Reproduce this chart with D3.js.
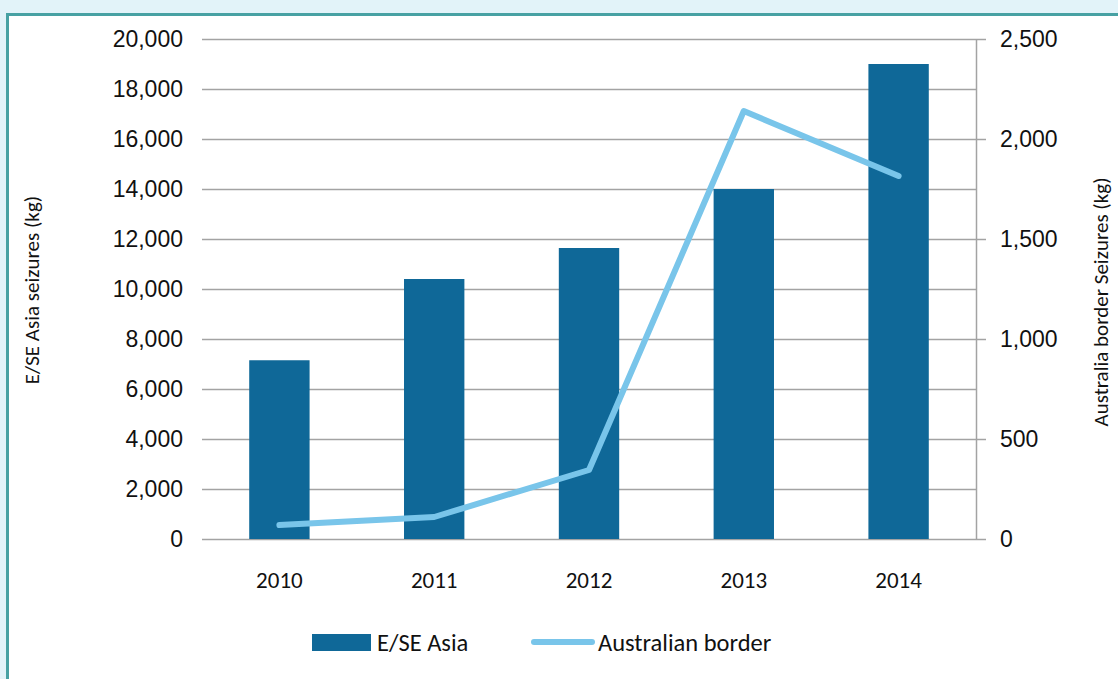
<!DOCTYPE html>
<html lang="en">
<head>
    <meta charset="UTF-8">
    <title>E/SE Asia and Australian border seizures</title>
    <script src="https://d3js.org/d3.v7.min.js"></script>
    <style>
        html, body { margin: 0; padding: 0; background: #e2f3f9; }
        body { font-family: Calibri, Carlito, "Liberation Sans", Arial, sans-serif; }
        svg { display: block; }
        .tick-label { font-size: 23px; fill: #111; }
        .axis-title { font-size: 21px; fill: #111; }
        .legend text { font-size: 24.5px; fill: #111; }
    </style>
</head>
<body>
    <div id="chart"></div>
    <script>
        // chart values
        const years = ["2010", "2011", "2012", "2013", "2014"];
        const asiaSeizures = [7150, 10400, 11640, 14000, 19000];
        const borderSeizures = [70, 110, 345, 2140, 1815];
        const leftTicks = [0, 2000, 4000, 6000, 8000, 10000, 12000, 14000, 16000, 18000, 20000];
        const rightTicks = [0, 500, 1000, 1500, 2000, 2500];

        const W = 1118, H = 679;
        const plot = { left: 202, right: 976, top: 39, bottom: 539 };

        const svg = d3.select("#chart").append("svg")
            .attr("width", W)
            .attr("height", H);

        // white panel with teal frame
        svg.append("rect")
            .attr("x", 7.5).attr("y", 14.5)
            .attr("width", W + 20).attr("height", H + 20)
            .attr("fill", "#fff")
            .attr("stroke", "#47a1a3")
            .attr("stroke-width", 3);

        const x = d3.scaleBand()
            .domain(years)
            .range([plot.left, plot.right])
            .paddingInner(0.61)
            .paddingOuter(0.305);
        const xc = d => x(d) + x.bandwidth() / 2;

        const yL = d3.scaleLinear().domain([0, 20000]).range([plot.bottom, plot.top]);
        const yR = d3.scaleLinear().domain([0, 2500]).range([plot.bottom, plot.top]);

        // gridlines (left axis)
        const leftAxis = d3.axisLeft(yL)
            .tickValues(leftTicks)
            .tickSize(-(plot.right - plot.left))
            .tickPadding(19)
            .tickFormat(d3.format(","));
        const gL = svg.append("g")
            .attr("transform", "translate(" + plot.left + ",0)")
            .call(leftAxis);
        gL.select(".domain").remove();
        gL.selectAll(".tick line").attr("stroke", "#a3a3a3").attr("stroke-width", 1.5);
        gL.selectAll(".tick text").attr("class", "tick-label").attr("font-family", null).attr("font-size", null).attr("fill", null);

        // right axis
        const rightAxis = d3.axisRight(yR)
            .tickValues(rightTicks)
            .tickSize(10)
            .tickSizeOuter(0)
            .tickPadding(14)
            .tickFormat(d3.format(","));
        const gR = svg.append("g")
            .attr("transform", "translate(" + plot.right + ",0)")
            .call(rightAxis);
        gR.select(".domain").attr("stroke", "#a3a3a3").attr("stroke-width", 1.5);
        gR.selectAll(".tick line").attr("stroke", "#a3a3a3").attr("stroke-width", 1.5);
        gR.selectAll(".tick text").attr("class", "tick-label").attr("font-family", null).attr("font-size", null).attr("fill", null);

        // bars
        svg.append("g").selectAll("rect")
            .data(years)
            .join("rect")
            .attr("x", d => x(d))
            .attr("width", x.bandwidth())
            .attr("y", (d, i) => yL(asiaSeizures[i]))
            .attr("height", (d, i) => yL(0) - yL(asiaSeizures[i]))
            .attr("fill", "#0f6898");

        // category labels
        svg.append("g").selectAll("text")
            .data(years)
            .join("text")
            .attr("class", "tick-label")
            .attr("x", d => xc(d))
            .attr("y", 588)
            .attr("text-anchor", "middle")
            .text(d => d);

        // line on right axis
        const line = d3.line()
            .x((d, i) => xc(years[i]))
            .y(d => yR(d));
        svg.append("path")
            .datum(borderSeizures)
            .attr("d", line)
            .attr("fill", "none")
            .attr("stroke", "#79c5ea")
            .attr("stroke-width", 6)
            .attr("stroke-linejoin", "round")
            .attr("stroke-linecap", "round");

        // axis titles
        svg.append("text")
            .attr("class", "axis-title")
            .attr("transform", "translate(39,290) rotate(-90)")
            .attr("text-anchor", "middle")
            .text("E/SE Asia seizures (kg)");
        svg.append("text")
            .attr("class", "axis-title")
            .attr("transform", "translate(1108,302) rotate(-90)")
            .attr("text-anchor", "middle")
            .text("Australia border Seizures (kg)");

        // legend
        const legend = svg.append("g").attr("class", "legend");
        legend.append("rect")
            .attr("x", 312).attr("y", 634)
            .attr("width", 59).attr("height", 17)
            .attr("fill", "#0f6898");
        legend.append("text")
            .attr("x", 377).attr("y", 651)
            .text("E/SE Asia");
        legend.append("line")
            .attr("x1", 534).attr("x2", 592)
            .attr("y1", 642).attr("y2", 642)
            .attr("stroke", "#79c5ea")
            .attr("stroke-width", 6)
            .attr("stroke-linecap", "round");
        legend.append("text")
            .attr("x", 598).attr("y", 651)
            .text("Australian border");
    </script>
</body>
</html>
